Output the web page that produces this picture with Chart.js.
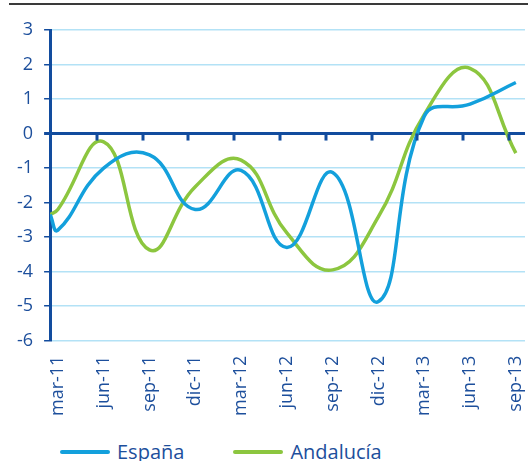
<!DOCTYPE html>
<html>
<head>
<meta charset="utf-8">
<script src="https://cdn.jsdelivr.net/npm/chart.js@4/dist/chart.umd.min.js"></script>
<style>
  html, body { margin: 0; padding: 0; background: #fff; }
  #wrap { position: relative; width: 528px; height: 461px; overflow: hidden; font-family: "Open Sans", sans-serif; }
  #rule { position: absolute; left: 9px; right: 0; top: 3px; border-top: 2px solid #3a3a3a; }
  #chartBox { position: absolute; left: 0; top: 0; width: 528px; height: 431px; }
  #legend { position: absolute; left: 60px; top: 440px; display: flex; align-items: center; font-size: 20px; line-height: 24px; color: #1d4f9c; }
  #legend .item { display: flex; align-items: center; margin-right: 49px; }
  #legend .swatch { display: inline-block; width: 50px; height: 4px; border-radius: 2px; margin-right: 7px; }
</style>
</head>
<body>
<div id="wrap">
  <div id="rule"></div>
  <div id="chartBox"><canvas id="lineChart"></canvas></div>
  <div id="legend"></div>
</div>
<script>
// quarterly labels
const categories = ['mar-11', 'jun-11', 'sep-11', 'dic-11', 'mar-12', 'jun-12', 'sep-12', 'dic-12', 'mar-13', 'jun-13', 'sep-13'];
// values (%)
const espana    = [-2.8, -1.0, -0.62, -2.2, -1.07, -3.3, -1.13, -4.87, 0.5, 0.85, 1.48];
const andalucia = [-2.2, -0.24, -3.37, -1.54, -0.77, -2.88, -3.95, -2.41, 0.55, 1.89, -0.57];
// the lines start a little before the first label, at the axis
const espanaStart = -2.35;
const andaluciaStart = -2.35;
const yTicks = [3, 2, 1, 0, -1, -2, -3, -4, -5, -6];

const xMin = -0.17;
const xMax = 10.2;
const darkBlue = '#1d4f9c';
const axisBlue = '#124c9e';
const gridBlue = '#b3e2f6';
const blueLine = '#13a0dc';
const greenLine = '#8cc63f';

function series(start, values) {
  const pts = [{ x: xMin, y: start }];
  values.forEach((v, i) => pts.push({ x: i, y: v }));
  return pts;
}

// small tick marks hanging from the zero line
const zeroTicks = {
  id: 'zeroTicks',
  afterDatasetsDraw(chart) {
    const x = chart.scales.x, y = chart.scales.y;
    const y0 = y.getPixelForValue(0);
    const ctx = chart.ctx;
    ctx.save();
    ctx.strokeStyle = axisBlue;
    ctx.lineWidth = 3;
    categories.forEach((c, i) => {
      if (i === 0) return;
      const px = Math.round(x.getPixelForValue(i - 0.15));
      ctx.beginPath();
      ctx.moveTo(px, y0);
      ctx.lineTo(px, y0 + 7);
      ctx.stroke();
    });
    ctx.restore();
  }
};

const ctxLine = document.getElementById('lineChart').getContext('2d');
const lineChart = new Chart(ctxLine, {
  type: 'line',
  data: {
    datasets: [{
      label: 'España',
      data: series(espanaStart, espana),
      borderColor: blueLine,
      backgroundColor: blueLine,
      borderWidth: 3.5,
      pointRadius: 0,
      tension: 0.45,
      fill: false
    }, {
      label: 'Andalucía',
      data: series(andaluciaStart, andalucia),
      borderColor: greenLine,
      backgroundColor: greenLine,
      borderWidth: 3.5,
      pointRadius: 0,
      tension: 0.45,
      fill: false
    }]
  },
  options: {
    responsive: true,
    maintainAspectRatio: false,
    animation: false,
    layout: { padding: { left: 6, right: 3, top: 30, bottom: 0 } },
    plugins: {
      legend: { display: false },
      tooltip: { enabled: false }
    },
    scales: {
      x: {
        type: 'linear',
        min: xMin,
        max: xMax,
        afterBuildTicks: (scale) => {
          scale.ticks = categories.map((c, i) => ({ value: i }));
        },
        afterFit: (scale) => {
          scale.paddingLeft = 0;
          scale.paddingRight = 0;
        },
        ticks: {
          color: darkBlue,
          font: { family: 'Open Sans', size: 18 },
          minRotation: 90,
          maxRotation: 90,
          padding: 15,
          autoSkip: false,
          callback: (v) => categories[v]
        },
        grid: { drawOnChartArea: false, drawTicks: false },
        border: { display: false }
      },
      y: {
        min: -6,
        max: 3,
        afterBuildTicks: (scale) => {
          scale.ticks = yTicks.map(v => ({ value: v }));
        },
        ticks: {
          color: darkBlue,
          font: { family: 'Open Sans', size: 18 },
          padding: 11
        },
        grid: {
          color: (c) => c.tick && c.tick.value === 0 ? axisBlue : gridBlue,
          lineWidth: (c) => c.tick && c.tick.value === 0 ? 3 : 1.5,
          tickColor: axisBlue,
          tickLength: 6
        },
        border: { color: axisBlue, width: 3 }
      }
    }
  },
  plugins: [zeroTicks]
});

// legend as plain text under the chart
const legendEl = document.getElementById('legend');
lineChart.data.datasets.forEach(ds => {
  const item = document.createElement('span');
  item.className = 'item';
  const sw = document.createElement('span');
  sw.className = 'swatch';
  sw.style.background = ds.borderColor;
  item.appendChild(sw);
  item.appendChild(document.createTextNode(ds.label));
  legendEl.appendChild(item);
});
</script>
</body>
</html>
